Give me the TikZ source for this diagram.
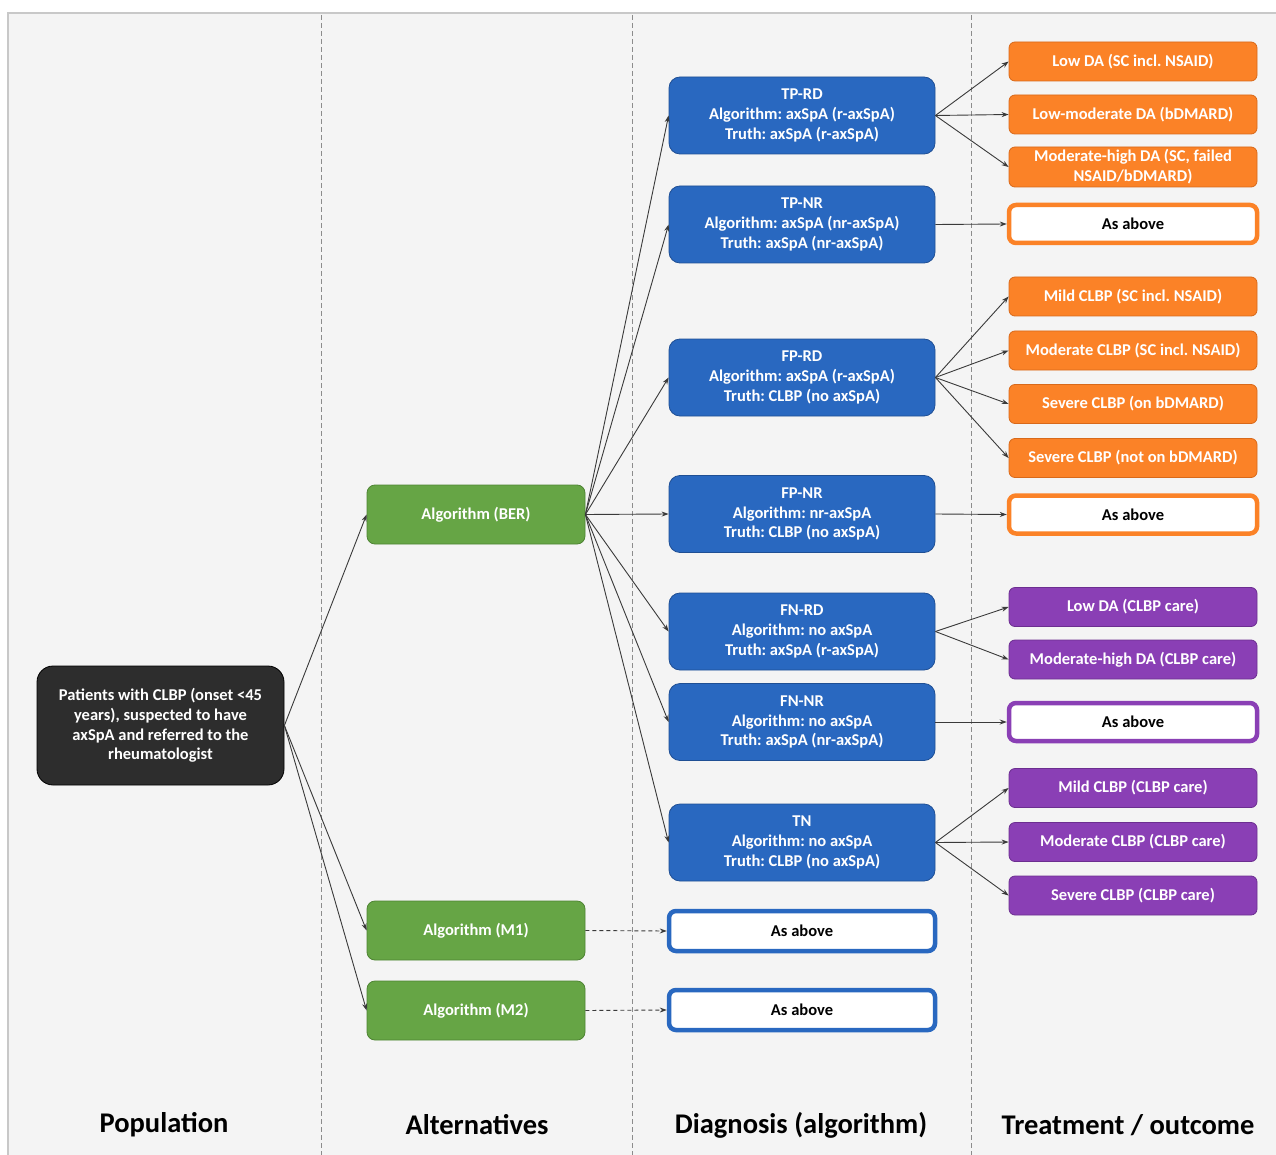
\documentclass[tikz,border=0pt]{standalone}
\usepackage{fontspec}
\setmainfont{Carlito}
\usetikzlibrary{arrows.meta}
\frenchspacing
\definecolor{bgc}{HTML}{F4F4F4}
\definecolor{framec}{HTML}{C8C8C8}
\definecolor{sepc}{HTML}{8C8C8C}
\definecolor{bluef}{HTML}{2968C0}
\definecolor{blued}{HTML}{1F4F94}
\definecolor{greenf}{HTML}{66A545}
\definecolor{greend}{HTML}{4E8433}
\definecolor{orangef}{HTML}{FB8227}
\definecolor{oranged}{HTML}{D8691A}
\definecolor{purplef}{HTML}{8A3FB5}
\definecolor{purpled}{HTML}{6C2E90}
\definecolor{blackf}{HTML}{2D2D2D}
\definecolor{arrowc}{HTML}{3A3A3A}
\tikzset{
  basebox/.style={align=center, inner sep=0pt, text=white,
    font=\frenchspacing\bfseries\fontsize{16.5}{19.8}\selectfont},
  popbox/.style={basebox, fill=blackf, draw=black, line width=0.8pt, rounded corners=16pt,
    minimum width=247pt, minimum height=119pt},
  altbox/.style={basebox, fill=greenf, draw=greend, line width=0.8pt, rounded corners=8pt,
    minimum width=218pt, minimum height=59pt},
  diagbox/.style={basebox, fill=bluef, draw=blued, line width=0.8pt, rounded corners=11pt,
    minimum width=266pt, minimum height=77pt},
  diagsame/.style={basebox, text=black, fill=white, draw=bluef, line width=4.5pt, rounded corners=7pt,
    minimum width=266pt, minimum height=40pt},
  obox/.style={basebox, fill=orangef, draw=oranged, line width=0.8pt, rounded corners=6pt,
    minimum width=248pt, minimum height=39pt},
  osame/.style={basebox, text=black, fill=white, draw=orangef, line width=4.5pt, rounded corners=7pt,
    minimum width=248pt, minimum height=38pt},
  pbox/.style={basebox, fill=purplef, draw=purpled, line width=0.8pt, rounded corners=6pt,
    minimum width=248pt, minimum height=39pt},
  psame/.style={basebox, text=black, fill=white, draw=purplef, line width=4.5pt, rounded corners=7pt,
    minimum width=248pt, minimum height=38pt},
  arr/.style={draw=arrowc, line width=0.9pt, -{Stealth[length=7pt,width=5pt]}},
  darr/.style={arr, dashed, dash pattern=on 4pt off 3pt},
  sep/.style={draw=sepc, line width=0.9pt, dash pattern=on 5pt off 3pt},
  coltitle/.style={font=\bfseries\fontsize{28.5}{32}\selectfont, text=black, inner sep=0pt}
}
\begin{document}
\begin{tikzpicture}[x=1pt,y=-1pt]
\useasboundingbox (0,0) rectangle (1276,1155);
\fill[white] (0,0) rectangle (1276,1155);
\begin{scope}
\clip (0,0) rectangle (1276,1155);
\draw[fill=bgc, draw=framec, line width=1.5pt] (8,13) rectangle (1290,1175);
\end{scope}
% column separators
\draw[sep] (321,15) -- (321,1155);
\draw[sep] (632,15) -- (632,1155);
\draw[sep] (971,15) -- (971,1155);

% population
\node[popbox] (pop) at (160.5,725.5) {Patients with CLBP (onset <45\\years), suspected to have\\axSpA and referred to the\\rheumatologist};

% alternatives
\node[altbox] (ber) at (476,514.5) {Algorithm (BER)};
\node[altbox] (m1) at (476,930.5) {Algorithm (M1)};
\node[altbox] (m2) at (476,1010.5) {Algorithm (M2)};

% diagnosis
\node[diagbox] (tprd) at (802,115.5) {TP-RD\\Algorithm: axSpA (r-axSpA)\\Truth: axSpA (r-axSpA)};
\node[diagbox] (tpnr) at (802,224.5) {TP-NR\\Algorithm: axSpA (nr-axSpA)\\Truth: axSpA (nr-axSpA)};
\node[diagbox] (fprd) at (802,377.5) {FP-RD\\Algorithm: axSpA (r-axSpA)\\Truth: CLBP (no axSpA)};
\node[diagbox] (fpnr) at (802,514) {FP-NR\\Algorithm: nr-axSpA\\Truth: CLBP (no axSpA)};
\node[diagbox] (fnrd) at (802,631.5) {FN-RD\\Algorithm: no axSpA\\Truth: axSpA (r-axSpA)};
\node[diagbox] (fnnr) at (802,722) {FN-NR\\Algorithm: no axSpA\\Truth: axSpA (nr-axSpA)};
\node[diagbox] (tn) at (802,842.5) {TN\\Algorithm: no axSpA\\Truth: CLBP (no axSpA)};
\node[diagsame] (sm1) at (802,931) {As above};
\node[diagsame] (sm2) at (802,1010) {As above};

% treatment
\node[obox] (o1) at (1133,61.5) {Low DA (SC incl. NSAID)};
\node[obox] (o2) at (1133,114.5) {Low-moderate DA (bDMARD)};
\node[obox, minimum height=40pt] (o3) at (1133,167) {Moderate-high DA (SC, failed\\NSAID/bDMARD)};
\node[osame] (o4) at (1133,224) {As above};
\node[obox] (o5) at (1133,296.5) {Mild CLBP (SC incl. NSAID)};
\node[obox] (o6) at (1133,350.5) {Moderate CLBP (SC incl. NSAID)};
\node[obox] (o7) at (1133,404) {Severe CLBP (on bDMARD)};
\node[obox] (o8) at (1133,458) {Severe CLBP (not on bDMARD)};
\node[osame] (o9) at (1133,514.5) {As above};
\node[pbox] (p1) at (1133,607) {Low DA (CLBP care)};
\node[pbox] (p2) at (1133,659.5) {Moderate-high DA (CLBP care)};
\node[psame] (p3) at (1133,722) {As above};
\node[pbox] (p4) at (1133,788) {Mild CLBP (CLBP care)};
\node[pbox] (p5) at (1133,842) {Moderate CLBP (CLBP care)};
\node[pbox] (p6) at (1133,895.5) {Severe CLBP (CLBP care)};

% connectors
\draw[arr] (pop.east) -- (ber.west);
\draw[arr] (pop.east) -- (m1.west);
\draw[arr] (pop.east) -- (m2.west);
\foreach \t in {tprd,tpnr,fprd,fpnr,fnrd,fnnr,tn}
  \draw[arr] (ber.east) -- (\t.west);
\draw[darr] (m1.east) -- (sm1.west);
\draw[darr] (m2.east) -- (sm2.west);
\foreach \t in {o1,o2,o3} \draw[arr] (tprd.east) -- (\t.west);
\draw[arr] (tpnr.east) -- (o4.west);
\foreach \t in {o5,o6,o7,o8} \draw[arr] (fprd.east) -- (\t.west);
\draw[arr] (fpnr.east) -- (o9.west);
\foreach \t in {p1,p2} \draw[arr] (fnrd.east) -- (\t.west);
\draw[arr] (fnnr.east) -- (p3.west);
\foreach \t in {p4,p5,p6} \draw[arr] (tn.east) -- (\t.west);

% column titles
\node[coltitle] (t1) at (164,1125) {Population};
\node[coltitle] (t2) at (477,1125) {Alternatives};
\node[coltitle] (t3) at (801,1125) {Diagnosis (algorithm)};
\node[coltitle] (t4) at (1128,1125) {Treatment / outcome};
\end{tikzpicture}
\end{document}
